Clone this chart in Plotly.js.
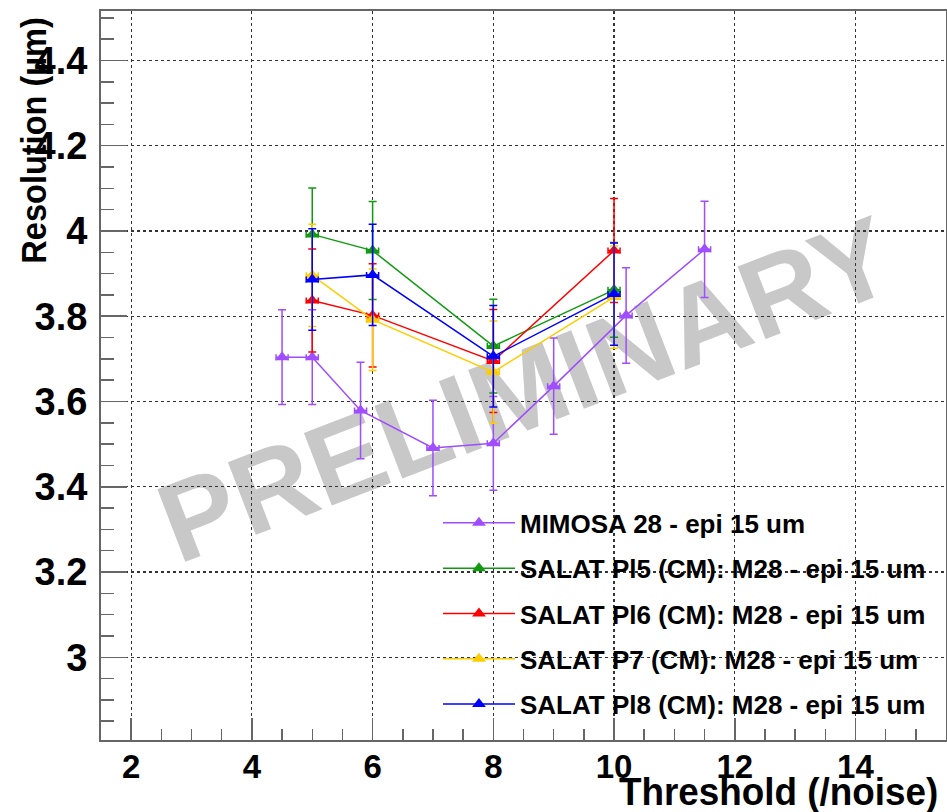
<!DOCTYPE html>
<html>
<head>
<meta charset="utf-8">
<script src="https://cdn.plot.ly/plotly-3.0.1.min.js"></script>
<style>
html,body{margin:0;padding:0;background:#fff;}
#chart{width:947px;height:812px;}
</style>
</head>
<body>
<div id="chart"></div>
<script>
// ---- data ----
const seriesNames = [
  "MIMOSA 28 - epi 15 um",
  "SALAT Pl5 (CM): M28 - epi 15 um",
  "SALAT Pl6 (CM): M28 - epi 15 um",
  "SALAT P7 (CM): M28 - epi 15 um",
  "SALAT Pl8 (CM): M28 - epi 15 um"
];
const mimosaX   = [4.5, 5, 5.8, 7, 8, 9, 10.2, 11.5];
const mimosaY   = [3.704, 3.704, 3.579, 3.491, 3.502, 3.636, 3.802, 3.957];
const mimosaErr = [0.111, 0.111, 0.113, 0.112, 0.110, 0.113, 0.112, 0.113];
const mimosaXErr = [0.1, 0.1, 0.1, 0.1, 0.1, 0.1, 0.1, 0.1];

const salatX    = [5, 6, 8, 10];
const salatXErr = [0.1, 0.1, 0.1, 0.1];
const pl5Y   = [3.992, 3.954, 3.730, 3.862];
const pl5Err = [0.109, 0.115, 0.110, 0.111];
const pl6Y   = [3.837, 3.802, 3.695, 3.954];
const pl6Err = [0.121, 0.121, 0.121, 0.122];
const p7Y    = [3.896, 3.792, 3.669, 3.845];
const p7Err  = [0.120, 0.119, 0.120, 0.120];
const pl8Y   = [3.886, 3.897, 3.706, 3.852];
const pl8Err = [0.119, 0.119, 0.119, 0.120];

const xTickVals = [2, 4, 6, 8, 10, 12, 14];
const yTickVals = [3, 3.2, 3.4, 3.6, 3.8, 4, 4.2, 4.4];

const colors = ["#a04cff", "#109a10", "#ff0000", "#ffcc00", "#0000ff"];

function mk(name, x, y, err, xerr, color, idx) {
  return {
    type: "scatter", mode: "lines+markers", name: name,
    x: x, y: y, legendgroup: "g" + idx,
    line: {color: color, width: 1.5},
    marker: {symbol: "triangle-up", size: 12, color: color, line: {width: 0}},
    error_y: {type: "data", array: err, visible: true, color: color, thickness: 1.5, width: 4},
    error_x: {type: "data", array: xerr, visible: true, color: color, thickness: 1.5, width: 3}
  };
}

const data = [
  mk(seriesNames[0], mimosaX, mimosaY, mimosaErr, mimosaXErr, colors[0], 0),
  mk(seriesNames[1], salatX, pl5Y, pl5Err, salatXErr, colors[1], 1),
  mk(seriesNames[2], salatX, pl6Y, pl6Err, salatXErr, colors[2], 2),
  mk(seriesNames[3], salatX, p7Y, p7Err, salatXErr, colors[3], 3),
  mk(seriesNames[4], salatX, pl8Y, pl8Err, salatXErr, colors[4], 4)
];

const wide = "Liberation Sans, Arial, Helvetica, sans-serif";
const frameColor = "#666666";

const layout = {
  width: 947, height: 812,
  margin: {l: 101, r: 1, t: 11, b: 72, pad: 0},
  paper_bgcolor: "#ffffff", plot_bgcolor: "#ffffff",
  showlegend: true,
  xaxis: {
    range: [1.5, 15.5], tickmode: "array", tickvals: xTickVals,
    ticks: "inside", ticklen: 22, tickwidth: 1.5, tickcolor: frameColor,
    minor: {dtick: 0.5, tick0: 0, ticks: "inside", ticklen: 11, tickwidth: 1.5, tickcolor: frameColor, showgrid: false},
    showgrid: true, gridcolor: "#333333", gridwidth: 1.2, griddash: "3px,3px",
    showline: true, linecolor: frameColor, linewidth: 2, mirror: true, zeroline: false,
    tickfont: {family: wide, size: 33, color: "#000", weight: "bold"},
    ticklabelstandoff: -4
  },
  yaxis: {
    range: [2.806, 4.516], tickmode: "array", tickvals: yTickVals,
    ticks: "inside", ticklen: 26, tickwidth: 1.5, tickcolor: frameColor,
    minor: {dtick: 0.05, tick0: 0, ticks: "inside", ticklen: 13, tickwidth: 1.5, tickcolor: frameColor, showgrid: false},
    showgrid: true, gridcolor: "#333333", gridwidth: 1.2, griddash: "3px,3px",
    showline: true, linecolor: frameColor, linewidth: 2, mirror: true, zeroline: false,
    tickfont: {family: wide, size: 38, color: "#000", weight: "bold"},
    ticklabelstandoff: 4
  },
  legend: {
    x: 0.3988, y: 0.330, xanchor: "left", yanchor: "top",
    bgcolor: "rgba(0,0,0,0)", borderwidth: 0,
    font: {family: wide, size: 26, color: "#000", weight: "bold"},
    itemwidth: 72, tracegroupgap: 8.5, traceorder: "grouped"
  },
  shapes: [{
    type: "rect", xref: "paper", yref: "paper",
    x0: 0.398, x1: 0.598, y0: 0.445, y1: 0.545,
    line: {width: 0}, fillcolor: "rgba(0,0,0,0)", layer: "below",
    label: {text: "PRELIMINARY", textposition: "middle center", textangle: -21,
            font: {family: wide, size: 113, color: "#c8c8c8", weight: "bold"}}
  }],
  annotations: [
    {text: "Threshold (/noise)", xref: "paper", yref: "paper", x: 0.8018, y: -0.0713,
     xanchor: "center", yanchor: "middle", showarrow: false, borderpad: 0,
     font: {family: wide, size: 38, color: "#000", weight: "bold"}},
    {text: "Resolution (µm)", xref: "paper", yref: "paper", x: -0.0805, y: 0.823,
     xanchor: "center", yanchor: "middle", textangle: -90, showarrow: false, borderpad: 0,
     font: {family: wide, size: 35, color: "#000", weight: "bold"}}
  ]
};

// horizontal squeeze of the two axis titles (reference uses a condensed face)
const squeeze = [0.97, 0.93];

Plotly.newPlot("chart", data, layout, {displayModeBar: false, staticPlot: true}).then(function (gd) {
  gd.querySelectorAll("g.annotation").forEach(function (a) {
    const idx = parseInt(a.getAttribute("data-index"), 10);
    const t = a.querySelector("text.annotation-text");
    if (!t || isNaN(idx)) return;
    const x = parseFloat(t.getAttribute("x")) || 0;
    const prev = t.getAttribute("transform") || "";
    t.setAttribute("transform", prev + " translate(" + x + ",0) scale(" + squeeze[idx] + ",1) translate(" + (-x) + ",0)");
  });
});
</script>
</body>
</html>
